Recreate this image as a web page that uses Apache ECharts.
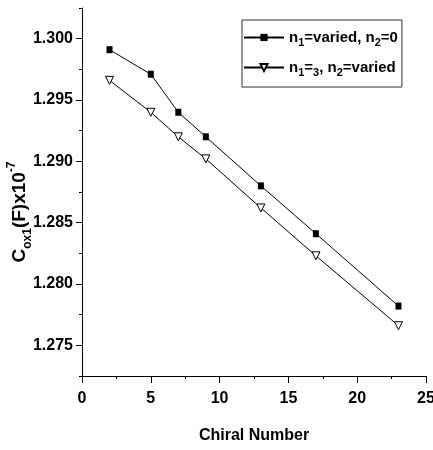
<!DOCTYPE html>
<html>
<head>
<meta charset="utf-8">
<script src="https://cdn.jsdelivr.net/npm/echarts@6/dist/echarts.min.js"></script>
<style>
  html, body { margin: 0; padding: 0; background: #fff; }
  #chartmain { width: 433px; height: 450px; }
</style>
</head>
<body>
<div id="chartmain"></div>
<script>
  // data
  var chiral = [2, 5, 7, 9, 13, 17, 23];
  var n1Varied = [1.2991, 1.2971, 1.2940, 1.2920, 1.2880, 1.2841, 1.2782];
  var n2Varied = [1.2966, 1.2940, 1.2920, 1.2902, 1.2862, 1.2823, 1.2766];
  var yMajor = [1.275, 1.280, 1.285, 1.290, 1.295, 1.300];
  var yMinor = [1.2725, 1.2775, 1.2825, 1.2875, 1.2925, 1.2975, 1.3025];
  var seriesNames = ['n1=varied, n2=0', 'n1=3, n2=varied'];

  var font = '"Liberation Sans", Arial, sans-serif';

  function pairs(xs, ys) {
    var out = [];
    for (var i = 0; i < xs.length; i++) {
      out.push([xs[i], ys[i]]);
    }
    return out;
  }

  var myChart = echarts.init(document.getElementById('chartmain'));

  var option = {
    animation: false,
    backgroundColor: '#fff',
    grid: { left: 82, right: 7, top: 8, bottom: 74, outerBoundsMode: 'none', containLabel: false },
    legend: {
      orient: 'vertical',
      left: 242,
      top: 20,
      padding: [10, 4, 9, 1],
      itemGap: 12,
      itemWidth: 40,
      itemHeight: 9,
      borderColor: '#333',
      borderWidth: 1,
      data: seriesNames,
      formatter: function (name) {
        if (name === seriesNames[0]) {
          return '{a|n}{s|1}{a|=varied, n}{s|2}{a|=0}';
        }
        return '{a|n}{s|1}{a|=}{s|3}{a|, n}{s|2}{a|=varied}';
      },
      textStyle: {
        rich: {
          a: { fontFamily: font, fontWeight: 'bold', fontSize: 15, color: '#000', verticalAlign: 'middle' },
          s: { fontFamily: font, fontWeight: 'bold', fontSize: 11, color: '#000', padding: [10, 0, 0, 0], verticalAlign: 'middle' }
        }
      }
    },
    xAxis: {
      type: 'value',
      min: 0,
      max: 25,
      interval: 5,
      name: 'Chiral Number',
      nameLocation: 'middle',
      nameGap: 52,
      nameTextStyle: { fontFamily: font, fontWeight: 'bold', fontSize: 16, color: '#000' },
      axisLine: { lineStyle: { color: '#000', width: 1 } },
      axisTick: { length: 7, lineStyle: { color: '#000' } },
      minorTick: { show: true, splitNumber: 2, length: 3, lineStyle: { color: '#000' } },
      splitLine: { show: false },
      axisLabel: { margin: 15, fontFamily: font, fontWeight: 'bold', fontSize: 16, color: '#000' }
    },
    yAxis: [{
      type: 'value',
      min: 1.2725,
      max: 1.3025,
      name: '{a|C}{s|ox1}{a|(F)x10}{p|-7}',
      nameLocation: 'middle',
      nameRotate: 90,
      nameGap: 48,
      nameMoveOverlap: false,
      nameTextStyle: {
        padding: [0, 40, 0, 0],
        rich: {
          a: { fontFamily: font, fontWeight: 'bold', fontSize: 19, color: '#000', lineHeight: 28, verticalAlign: 'middle' },
          s: { fontFamily: font, fontWeight: 'bold', fontSize: 12, color: '#000', lineHeight: 28, verticalAlign: 'bottom' },
          p: { fontFamily: font, fontWeight: 'bold', fontSize: 12, color: '#000', lineHeight: 28, verticalAlign: 'top' }
        }
      },
      axisLine: { show: true, lineStyle: { color: '#000', width: 1 } },
      axisTick: { show: true, length: 6, customValues: yMajor, lineStyle: { color: '#000' } },
      splitLine: { show: false },
      axisLabel: {
        margin: 9,
        customValues: yMajor,
        fontFamily: font, fontWeight: 'bold', fontSize: 16, color: '#000',
        formatter: function (v) { return v.toFixed(3); }
      }
    }, {
      // minor ticks only
      type: 'value',
      min: 1.2725,
      max: 1.3025,
      position: 'left',
      offset: 0,
      axisLine: { show: false },
      axisTick: { show: true, length: 3, customValues: yMinor, lineStyle: { color: '#000' } },
      axisLabel: { show: false },
      splitLine: { show: false }
    }],
    series: [{
      name: seriesNames[0],
      type: 'line',
      data: pairs(chiral, n1Varied),
      symbol: 'rect',
      symbolSize: [6, 7],
      itemStyle: { color: '#000' },
      lineStyle: { color: '#000', width: 1 }
    }, {
      name: seriesNames[1],
      type: 'line',
      data: pairs(chiral, n2Varied),
      symbol: 'triangle',
      symbolRotate: 180,
      symbolSize: [8, 8],
      itemStyle: { color: '#fff', borderColor: '#000', borderWidth: 1 },
      lineStyle: { color: '#000', width: 1 }
    }]
  };

  myChart.setOption(option);
</script>
</body>
</html>
